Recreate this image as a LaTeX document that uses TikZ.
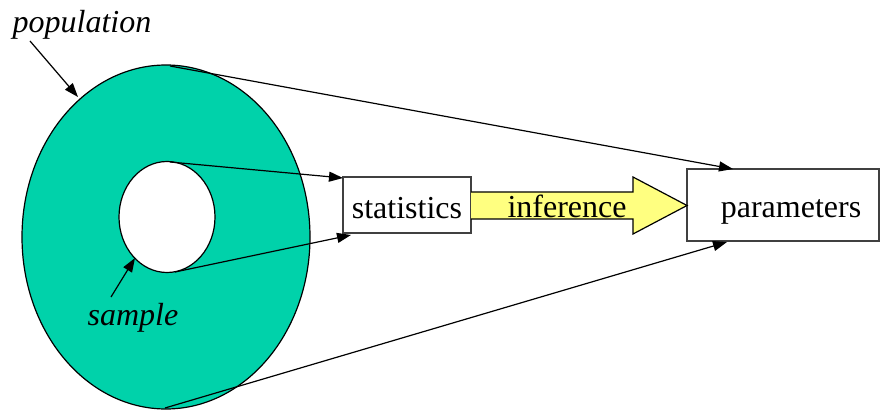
\documentclass[tikz,border=0pt]{standalone}
\usepackage{fontspec}
\setmainfont{Liberation Serif}
\usetikzlibrary{arrows.meta,calc,shapes.geometric}
\definecolor{popteal}{RGB}{0,210,170}
\definecolor{infyellow}{RGB}{255,255,128}
\begin{document}
\begin{tikzpicture}[x=1pt,y=1pt,
  txt/.style={font=\fontsize{32}{36}\selectfont, inner sep=0pt, anchor=base},
  itxt/.style={txt, font=\fontsize{32}{36}\selectfont\itshape},
  ln/.style={line width=1.2pt, black},
  arr/.style={ln, -{Triangle[length=14pt,width=10pt]}},
  boxed/.style={draw=black!75, line width=1.2pt, fill=white, inner sep=0pt}]
\useasboundingbox (0,0) rectangle (880,410);
% population and sample
\node[ellipse, draw, ln, fill=popteal, minimum width=288pt, minimum height=344pt, inner sep=0pt] (pop) at (166,173) {};
\node[ellipse, draw, ln, fill=white, minimum width=96pt, minimum height=111pt, inner sep=0pt] (smp) at (167,193) {};
% boxes
\node[boxed, minimum width=128pt, minimum height=56pt] (stat) at (407,205) {};
\node[txt] (stattxt) at (407,192) {statistics};
\node[boxed, minimum width=192pt, minimum height=72pt] (par) at (783,205) {};
\node[txt] (partxt) at (791,193) {parameters};
% inference arrow
\coordinate (ia) at (471,218);
\coordinate (ib) at (633,218);
\coordinate (ic) at (633,233);
\coordinate (itip) at (687,204.5);
\coordinate (id) at (633,176);
\coordinate (ie) at (633,191);
\coordinate (iff) at (471,191);
\draw[ln, fill=infyellow] (ia) -- (ib) -- (ic) -- (itip) -- (id) -- (ie) -- (iff);
\node[txt] (inf) at (567,193) {inference};
% connectors
\coordinate (pt) at (733,241);
\coordinate (pb) at (727,168);
\coordinate (st) at (343,232);
\coordinate (sb) at (351,175);
\draw[arr] (170,344) coordinate (poptop) -- (pt);
\draw[arr] (165,2) coordinate (popbot) -- (pb);
\draw[arr] (170,248) coordinate (smptop) -- (st);
\draw[arr] (175,138) coordinate (smpbot) -- (sb);
% labels
\node[itxt] (poplab) at (82,377) {population};
\coordinate (plstart) at (30,369);
\coordinate (plend) at (78,313);
\draw[arr] (plstart) -- (plend);
\node[itxt] (smplab) at (133,85) {sample};
\coordinate (slstart) at (111,113);
\coordinate (slend) at (135,152);
\draw[arr] (slstart) -- (slend);
\end{tikzpicture}
\end{document}
